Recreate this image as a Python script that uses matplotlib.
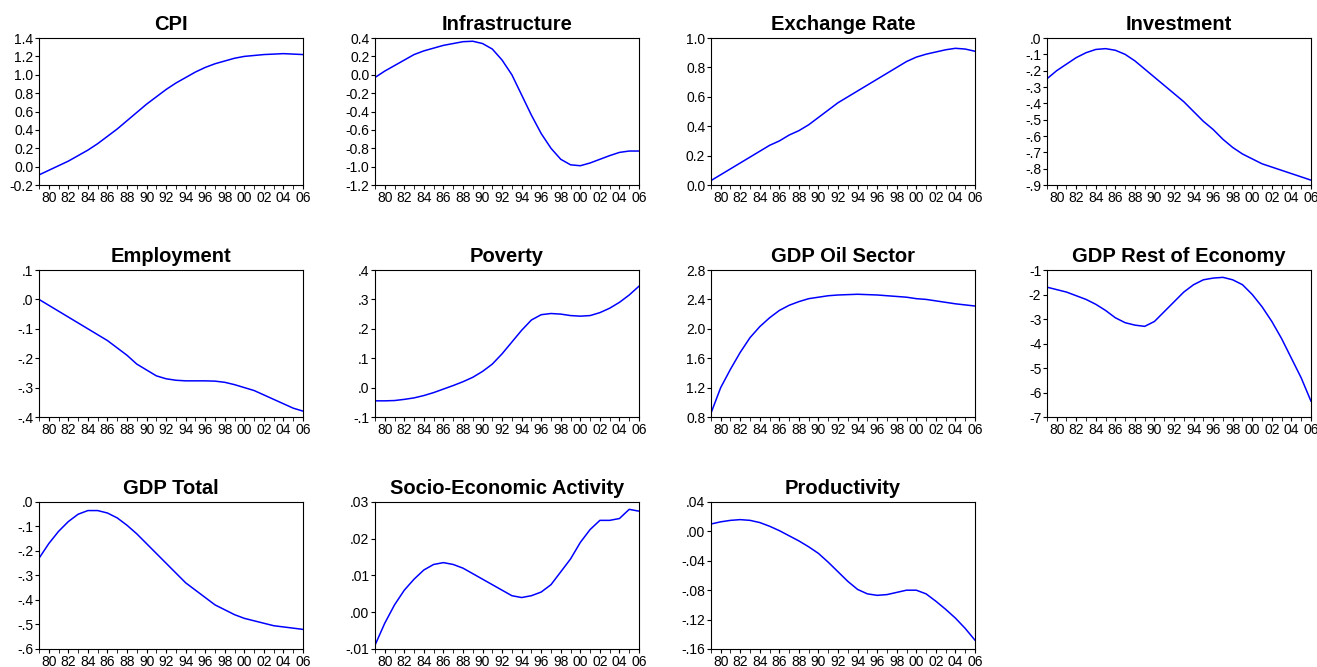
import numpy as np
import matplotlib
matplotlib.use("Agg")
import matplotlib.pyplot as plt
from matplotlib.ticker import FixedLocator, MultipleLocator, FuncFormatter

plt.rcParams['font.family'] = ['Liberation Sans', 'DejaVu Sans']

years = list(range(1979, 2007))

cpi = [-0.09, -0.04, 0.01, 0.06, 0.12, 0.18, 0.25, 0.33, 0.41, 0.50, 0.59, 0.68, 0.76, 0.84,
       0.91, 0.97, 1.03, 1.08, 1.12, 1.15, 1.18, 1.20, 1.21, 1.22, 1.225, 1.23, 1.225, 1.22]
infrastructure = [-0.03, 0.04, 0.10, 0.16, 0.22, 0.26, 0.29, 0.32, 0.34, 0.36, 0.365, 0.34, 0.28, 0.16,
                  0.0, -0.22, -0.44, -0.64, -0.80, -0.92, -0.98, -0.99, -0.96, -0.92, -0.88, -0.845, -0.83, -0.83]
exchange = [0.03, 0.07, 0.11, 0.15, 0.19, 0.23, 0.27, 0.30, 0.34, 0.37, 0.41, 0.46, 0.51, 0.56,
            0.60, 0.64, 0.68, 0.72, 0.76, 0.80, 0.84, 0.87, 0.89, 0.905, 0.92, 0.93, 0.925, 0.91]
investment = [-0.25, -0.20, -0.16, -0.12, -0.09, -0.07, -0.065, -0.075, -0.10, -0.14, -0.19, -0.24, -0.29, -0.34,
              -0.39, -0.45, -0.51, -0.56, -0.62, -0.67, -0.71, -0.74, -0.77, -0.79, -0.81, -0.83, -0.85, -0.87]
employment = [0.0, -0.02, -0.04, -0.06, -0.08, -0.10, -0.12, -0.14, -0.165, -0.19, -0.22, -0.24, -0.26, -0.27,
              -0.275, -0.277, -0.277, -0.277, -0.278, -0.282, -0.29, -0.30, -0.31, -0.325, -0.34, -0.355, -0.37, -0.38]
poverty = [-0.045, -0.045, -0.044, -0.04, -0.035, -0.027, -0.017, -0.005, 0.007, 0.02, 0.035, 0.055, 0.08, 0.115,
           0.155, 0.195, 0.23, 0.248, 0.252, 0.25, 0.245, 0.243, 0.245, 0.255, 0.27, 0.29, 0.315, 0.345]
gdp_oil = [0.85, 1.2, 1.45, 1.68, 1.88, 2.03, 2.15, 2.25, 2.32, 2.37, 2.41, 2.43, 2.45, 2.46,
           2.465, 2.47, 2.465, 2.46, 2.45, 2.44, 2.43, 2.41, 2.40, 2.38, 2.36, 2.34, 2.325, 2.31]
gdp_rest = [-1.7, -1.8, -1.9, -2.05, -2.2, -2.4, -2.65, -2.95, -3.15, -3.25, -3.3, -3.1, -2.7, -2.3,
            -1.9, -1.6, -1.4, -1.33, -1.3, -1.4, -1.6, -2.0, -2.5, -3.1, -3.8, -4.6, -5.4, -6.35]
gdp_total = [-0.23, -0.17, -0.12, -0.08, -0.05, -0.035, -0.035, -0.045, -0.065, -0.095, -0.13, -0.17, -0.21, -0.25,
             -0.29, -0.33, -0.36, -0.39, -0.42, -0.44, -0.46, -0.475, -0.485, -0.495, -0.505, -0.51, -0.515, -0.52]
socio = [-0.009, -0.003, 0.002, 0.006, 0.009, 0.0115, 0.013, 0.0135, 0.013, 0.012, 0.0105, 0.009, 0.0075, 0.006,
         0.0045, 0.004, 0.0045, 0.0055, 0.0075, 0.011, 0.0145, 0.019, 0.0225, 0.025, 0.025, 0.0255, 0.028, 0.0275]
productivity = [0.01, 0.013, 0.015, 0.016, 0.015, 0.012, 0.007, 0.001, -0.006, -0.013, -0.021, -0.03, -0.042, -0.055,
                -0.068, -0.079, -0.085, -0.087, -0.086, -0.083, -0.080, -0.080, -0.085, -0.095, -0.106, -0.118, -0.132, -0.148]

# (title, data, ymin, ymax, step, decimals, drop leading zero)
panels = [
    ("CPI", cpi, -0.2, 1.4, 0.2, 1, False),
    ("Infrastructure", infrastructure, -1.2, 0.4, 0.2, 1, False),
    ("Exchange Rate", exchange, 0.0, 1.0, 0.2, 1, False),
    ("Investment", investment, -0.9, 0.0, 0.1, 1, True),
    ("Employment", employment, -0.4, 0.1, 0.1, 1, True),
    ("Poverty", poverty, -0.1, 0.4, 0.1, 1, True),
    ("GDP Oil Sector", gdp_oil, 0.8, 2.8, 0.4, 1, False),
    ("GDP Rest of Economy", gdp_rest, -7, -1, 1, 0, False),
    ("GDP Total", gdp_total, -0.6, 0.0, 0.1, 1, True),
    ("Socio-Economic Activity", socio, -0.01, 0.03, 0.01, 2, True),
    ("Productivity", productivity, -0.16, 0.04, 0.04, 2, True),
]


def make_fmt(dec, strip):
    def f(v, pos):
        s = f"{v:.{dec}f}"
        if s.startswith("-") and float(s) == 0:
            s = s[1:]
        if strip:
            s = s.replace("0.", ".", 1)
        return s
    return FuncFormatter(f)


fig = plt.figure(figsize=(13.17, 6.67), dpi=100)
for i, (title, data, lo, hi, step, dec, strip) in enumerate(panels):
    r, c = divmod(i, 4)
    left = 0.0296 + c * 0.2551
    bottom = 0.943 - 0.2204 - r * 0.3478
    ax = fig.add_axes([left, bottom, 0.2005, 0.2204])
    ax.plot(years, data, color="#0000ff", lw=1.1)
    ax.set_xlim(1979, 2006)
    ax.set_ylim(lo, hi)
    ax.xaxis.set_major_locator(FixedLocator(range(1980, 2007, 2)))
    ax.xaxis.set_minor_locator(MultipleLocator(1))
    ax.xaxis.set_major_formatter(FuncFormatter(lambda v, p: f"{int(round(v)) % 100:02d}"))
    ax.yaxis.set_major_locator(MultipleLocator(step))
    ax.yaxis.set_major_formatter(make_fmt(dec, strip))
    ax.tick_params(axis="both", which="both", direction="out", length=3, labelsize=10, pad=1)
    ax.set_title(title, fontsize=14.5, fontweight="bold", pad=6)

fig.savefig("out.png", dpi=100)
